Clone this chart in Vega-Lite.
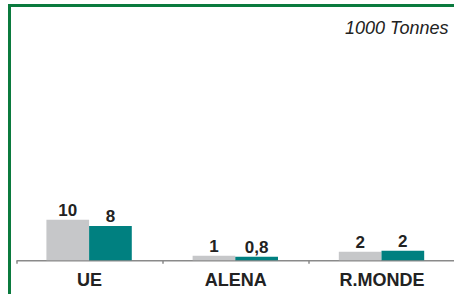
{
  "$schema": "https://vega.github.io/schema/vega-lite/v6.json",
  "width": 451.5,
  "height": 292,
  "autosize": {"type": "none"},
  "padding": {"left": 9.5, "top": 5.5, "right": 0, "bottom": 0},
  "background": "white",
  "config": {
    "view": {"stroke": "#0b7a3e", "strokeWidth": 3},
    "font": "Liberation Sans"
  },
  "title": {
    "text": "1000 Tonnes",
    "anchor": "end",
    "frame": "group",
    "orient": "top",
    "offset": -28.5,
    "baseline": "alphabetic",
    "dx": -12.5,
    "dy": 18,
    "font": "Liberation Sans",
    "fontSize": 18,
    "fontStyle": "italic",
    "fontWeight": "normal",
    "color": "#222222"
  },
  "data": {
    "values": [
      {"region": "UE", "series": "S1", "value": 10.0, "label": "10"},
      {"region": "UE", "series": "S2", "value": 8.45, "label": "8"},
      {"region": "ALENA", "series": "S1", "value": 1.13, "label": "1"},
      {"region": "ALENA", "series": "S2", "value": 0.89, "label": "0,8"},
      {"region": "R.MONDE", "series": "S1", "value": 2.12, "label": "2"},
      {"region": "R.MONDE", "series": "S2", "value": 2.36, "label": "2"}
    ]
  },
  "encoding": {
    "x": {
      "field": "region",
      "type": "nominal",
      "sort": ["UE", "ALENA", "R.MONDE"],
      "scale": {"paddingInner": 0.416, "paddingOuter": 0.208, "range": [6.5, 445.1]},
      "axis": {
        "title": null,
        "orient": "bottom",
        "offset": -37.2,
        "domainColor": "#8a8a8a",
        "domainWidth": 1.5,
        "tickColor": "#8a8a8a",
        "tickSize": 3,
        "tickWidth": 1.5,
        "bandPosition": 0.5,
        "tickOffset": -73.1,
        "labelOffset": 73.1,
        "labelPadding": 8,
        "labelFont": "Liberation Sans",
        "labelFontSize": 18,
        "labelFontWeight": "bold",
        "labelColor": "#222222",
        "labelAngle": 0,
        "grid": false
      }
    },
    "xOffset": {
      "field": "series",
      "type": "nominal",
      "sort": ["S1", "S2"],
      "scale": {"paddingInner": 0, "paddingOuter": 0}
    },
    "y": {
      "field": "value",
      "type": "quantitative",
      "stack": null,
      "scale": {"domain": [-9.163, 62.76], "zero": false, "nice": false},
      "axis": null
    }
  },
  "layer": [
    {
      "mark": {"type": "bar"},
      "encoding": {
        "color": {
          "field": "series",
          "type": "nominal",
          "scale": {"domain": ["S1", "S2"], "range": ["#c6c7c9", "#008080"]},
          "legend": null
        }
      }
    },
    {
      "mark": {
        "type": "text",
        "baseline": "alphabetic",
        "dy": -4,
        "font": "Liberation Sans",
        "fontSize": 17,
        "fontWeight": "bold",
        "color": "#222222"
      },
      "encoding": {
        "text": {"field": "label", "type": "nominal"}
      }
    }
  ]
}
